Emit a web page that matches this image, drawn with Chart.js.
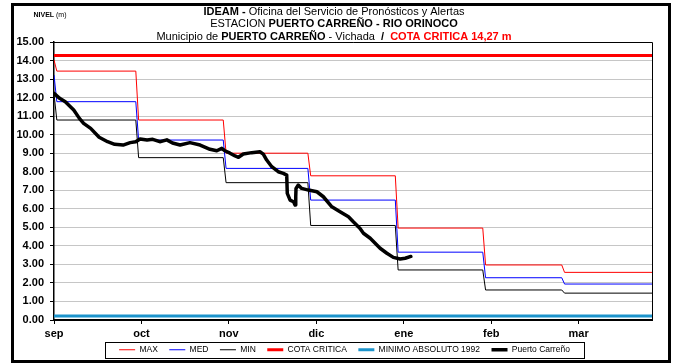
<!DOCTYPE html>
<html>
<head>
<meta charset="utf-8">
<script src="https://cdn.jsdelivr.net/npm/chart.js@4.4.1/dist/chart.umd.min.js"></script>
<style>
  html, body { margin: 0; padding: 0; background: #fff; }
</style>
</head>
<body>
<canvas id="nivelChart" width="677" height="364"></canvas>
<script>
// eje x en dias desde el 1 de septiembre
const monthLabels = ['sep', 'oct', 'nov', 'dic', 'ene', 'feb', 'mar'];
const tickDays = [0, 31, 62, 93, 124, 155, 186];
const monthStart = [0, 30, 61, 91, 122, 153, 181];
const lastDay = 212;

// niveles mensuales historicos (m)
const maxLevels = [13.43, 10.79, 9.00, 7.78, 4.96, 2.97, 2.57];
const medLevels = [11.78, 9.71, 8.18, 6.47, 3.66, 2.28, 1.94];
const minLevels = [10.79, 8.76, 7.41, 5.10, 2.70, 1.62, 1.45];
const firstDayMax = 14.03;
const firstDayMed = 13.22;
const firstDayMin = 12.20;

const cotaCritica = 14.27;
const minimoAbsoluto = 0.22;

// lecturas Puerto Carreño
const pcDays = [0, 2, 4, 7, 9, 10.5, 13, 16, 19, 21.5, 24.5, 27, 29, 30.5, 33, 35, 37.5, 40, 42, 44.7,
  48.2, 51.8, 55.3, 57.7, 59.5, 60.6, 62.4, 64.2, 65.4, 67.1, 70.1, 73, 74.2, 75.4, 77.2, 79.5, 81.3,
  82.5, 82.7, 83.7, 84.9, 85.5, 85.7, 85.8, 86.6, 87.8, 90.2, 93.2, 95.5, 98.5, 101.4, 104.4, 106.1,
  108.5, 109.7, 112.1, 115.6, 118, 120.3, 122.7, 124.5, 126.5];
const pcLevels = [12.23, 11.96, 11.78, 11.33, 10.88, 10.61, 10.34, 9.86, 9.62, 9.48, 9.44, 9.57, 9.62, 9.77,
  9.71, 9.75, 9.62, 9.72, 9.55, 9.44, 9.57, 9.44, 9.21, 9.13, 9.26, 9.13, 9.00, 8.85, 8.78, 8.96, 9.03,
  9.08, 8.95, 8.63, 8.27, 8.00, 7.91, 7.82, 6.83, 6.47, 6.38, 6.20, 6.65, 7.10, 7.28, 7.10, 7.01, 6.92,
  6.65, 6.11, 5.84, 5.57, 5.30, 4.94, 4.68, 4.41, 3.87, 3.60, 3.38, 3.29, 3.33, 3.43];

const FONT = '"Liberation Sans", Arial, sans-serif';

// escalon: valor constante durante cada mes
function stepSeries(first, levels) {
  const pts = [{ x: 0, y: first }];
  levels.forEach((v, i) => {
    const from = i === 0 ? 1 : monthStart[i];
    const to = i < levels.length - 1 ? monthStart[i + 1] - 1 : lastDay;
    pts.push({ x: from, y: v }, { x: to, y: v });
  });
  return pts;
}

function flat(v) {
  return [{ x: 0, y: v }, { x: lastDay, y: v }];
}

const titleLines = [
  [{ t: 'IDEAM - ', b: true }, { t: 'Oficina del Servicio de Pronósticos y Alertas' }],
  [{ t: 'ESTACION ' }, { t: 'PUERTO CARREÑO - RIO ORINOCO', b: true }],
  [{ t: 'Municipio de ' }, { t: 'PUERTO CARREÑO', b: true }, { t: ' - Vichada  ' },
   { t: '/  ', b: true }, { t: 'COTA CRITICA 14,27 m', b: true, c: '#FF0000' }]
];

function drawRich(ctx, parts, cx, y, size) {
  let w = 0;
  parts.forEach(p => {
    ctx.font = (p.b ? 'bold ' : '') + size + 'px ' + FONT;
    w += ctx.measureText(p.t).width;
  });
  let x = cx - w / 2;
  parts.forEach(p => {
    ctx.font = (p.b ? 'bold ' : '') + size + 'px ' + FONT;
    ctx.fillStyle = p.c || '#000';
    ctx.fillText(p.t, x, y);
    x += ctx.measureText(p.t).width;
  });
}

const framePlugin = {
  id: 'frame',
  afterLayout(chart) {
    // leyenda un poco mas arriba, pegada a las etiquetas del eje x
    const lg = chart.legend;
    lg.top = 334;
    lg.bottom = lg.top + lg.height;
  },
  beforeDraw(chart) {
    const ctx = chart.ctx;
    ctx.save();
    ctx.fillStyle = '#fff';
    ctx.fillRect(0, 0, chart.width, chart.height);
    ctx.restore();
  },
  afterDraw(chart) {
    const ctx = chart.ctx;
    const a = chart.chartArea;
    ctx.save();
    // marco del area de grafico
    ctx.strokeStyle = '#000';
    ctx.lineWidth = 1;
    ctx.beginPath();
    ctx.moveTo(a.left, a.top + 0.5);
    ctx.lineTo(a.right + 0.5, a.top + 0.5);
    ctx.lineTo(a.right + 0.5, a.bottom);
    ctx.stroke();

    // titulo
    ctx.textBaseline = 'middle';
    titleLines.forEach((line, i) => drawRich(ctx, line, 334, 11.5 + i * 12.5, 11));

    // rotulo del eje
    drawRich(ctx, [{ t: 'NIVEL', b: true }, { t: ' (m)' }], 50, 15, 7);

    // recuadro de la leyenda
    const hb = chart.legend.legendHitBoxes;
    if (hb && hb.length) {
      const last = hb[hb.length - 1];
      const l = hb[0].left - 14;
      const r = last.left + last.width + 14;
      const t = hb[0].top - 3.5;
      const b = hb[0].top + hb[0].height + 3.5;
      ctx.lineWidth = 1;
      ctx.strokeRect(Math.round(l) + 0.5, Math.round(t) + 0.5, Math.round(r - l), Math.round(b - t));
    }

    // borde exterior
    ctx.lineWidth = 3;
    ctx.strokeRect(12.5, 4.5, 657, 357);
    ctx.restore();
  }
};

const lineDefaults = { pointRadius: 0, fill: false, tension: 0, order: 1 };

new Chart(document.getElementById('nivelChart'), {
  type: 'line',
  data: {
    datasets: [
      { ...lineDefaults, label: 'MAX', data: stepSeries(firstDayMax, maxLevels),
        borderColor: '#FF0000', backgroundColor: '#FF0000', borderWidth: 1 },
      { ...lineDefaults, label: 'MED', data: stepSeries(firstDayMed, medLevels),
        borderColor: '#0000FF', backgroundColor: '#0000FF', borderWidth: 1 },
      { ...lineDefaults, label: 'MIN', data: stepSeries(firstDayMin, minLevels),
        borderColor: '#000000', backgroundColor: '#000000', borderWidth: 1 },
      { ...lineDefaults, label: 'COTA CRITICA', data: flat(cotaCritica),
        borderColor: '#FF0000', backgroundColor: '#FF0000', borderWidth: 3 },
      { ...lineDefaults, label: 'MINIMO ABSOLUTO 1992', data: flat(minimoAbsoluto),
        borderColor: '#1C94CC', backgroundColor: '#1C94CC', borderWidth: 3 },
      { ...lineDefaults, label: 'Puerto Carreño',
        data: pcDays.map((d, i) => ({ x: d, y: pcLevels[i] })),
        borderColor: '#000000', backgroundColor: '#000000', borderWidth: 3.5,
        borderJoinStyle: 'round', borderCapStyle: 'round', order: 0 }
    ]
  },
  options: {
    responsive: false,
    animation: false,
    layout: { padding: { left: 14, right: 2, top: 42, bottom: -6 } },
    plugins: {
      legend: {
        position: 'bottom',
        labels: {
          usePointStyle: true,
          pointStyle: 'line',
          pointStyleWidth: 16,
          boxHeight: 8,
          padding: 11.5,
          color: '#000',
          font: { family: FONT, size: 8.5 },
          sort: (a, b) => a.datasetIndex - b.datasetIndex
        }
      },
      tooltip: { enabled: false }
    },
    scales: {
      x: {
        type: 'linear',
        min: 0,
        max: lastDay,
        afterBuildTicks: s => { s.ticks = tickDays.map(v => ({ value: v })); },
        afterFit: s => { s.height = 20; },
        ticks: {
          autoSkip: false,
          maxRotation: 0,
          padding: 3,
          color: '#000',
          font: { family: FONT, size: 11, weight: 'bold' },
          callback: (v, i) => monthLabels[i]
        },
        grid: { drawOnChartArea: false, tickLength: 4, tickColor: '#000' },
        border: { color: '#000', width: 2 }
      },
      y: {
        min: 0,
        max: 15,
        afterFit: s => { s.width = 40; },
        ticks: {
          stepSize: 1,
          padding: 6,
          color: '#000',
          font: { family: FONT, size: 11, weight: 'bold' },
          callback: v => v.toFixed(2)
        },
        grid: { color: '#8c8c8c', tickColor: '#000', tickLength: 4, tickBorderDash: [] },
        border: { color: '#000', width: 1.5, dash: [1, 1] }
      },
      yr: {
        position: 'right',
        display: true,
        afterFit: s => { s.width = 23; },
        grid: { display: false, drawTicks: false },
        ticks: { display: false },
        border: { display: false }
      }
    }
  },
  plugins: [framePlugin]
});
</script>
</body>
</html>
